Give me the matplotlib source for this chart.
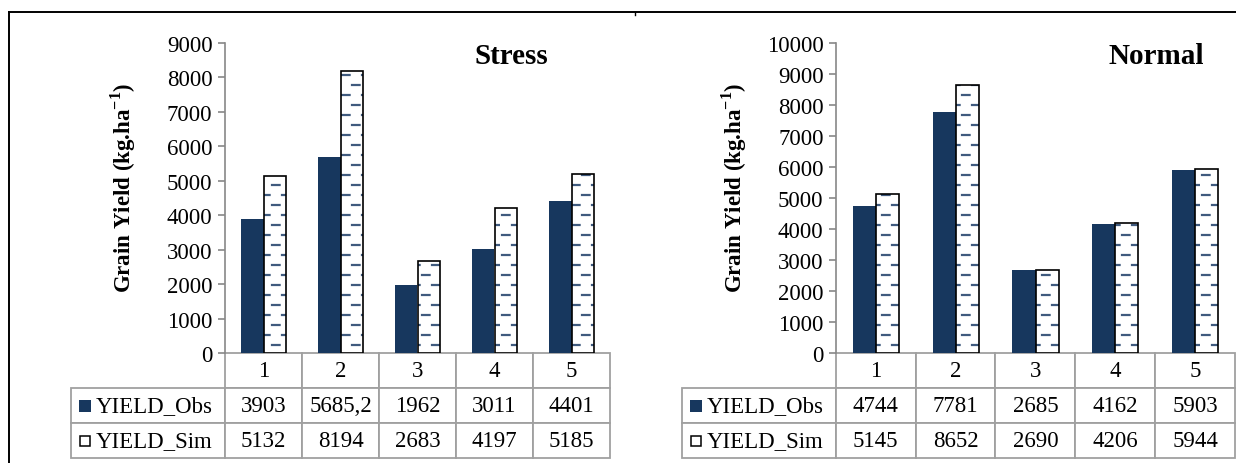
import numpy as np
import matplotlib
matplotlib.use("Agg")
import matplotlib.pyplot as plt
import matplotlib.hatch as mhatch
from matplotlib.path import Path
from matplotlib.patches import Rectangle
from matplotlib.lines import Line2D

# data
categories = ["1", "2", "3", "4", "5"]
stress_obs = [3903, 5685.2, 1962, 3011, 4401]
stress_sim = [5132, 8194, 2683, 4197, 5185]
normal_obs = [4744, 7781, 2685, 4162, 5903]
normal_sim = [5145, 8652, 2690, 4206, 5944]
stress_obs_txt = ["3903", "5685,2", "1962", "3011", "4401"]
stress_sim_txt = ["5132", "8194", "2683", "4197", "5185"]
normal_obs_txt = ["4744", "7781", "2685", "4162", "5903"]
normal_sim_txt = ["5145", "8652", "2690", "4206", "5944"]
series_names = ["YIELD_Obs", "YIELD_Sim"]

NAVY = "#17375E"
DASH = "#3F5A7E"
GRID = "#A0A0A0"


# staggered short dashes instead of full horizontal hatch lines
class DashedHorizontalHatch(mhatch.HatchPatternBase):
    def __init__(self, hatch, density):
        if '-' in hatch:
            self.rows, self.cols = 10, 5
        else:
            self.rows, self.cols = 0, 0
        self.num_vertices = self.rows * self.cols * 2

    def set_vertices_and_codes(self, vertices, codes):
        p = 1.0 / self.cols
        k = 0
        for r in range(self.rows):
            y = (r + 0.5) / self.rows
            off = 0.1 * p if r % 2 == 0 else 0.6 * p
            for c in range(self.cols):
                x0 = c * p + off
                vertices[k] = (x0, y)
                vertices[k + 1] = (x0 + 0.38 * p, y)
                codes[k] = Path.MOVETO
                codes[k + 1] = Path.LINETO
                k += 2


mhatch._hatch_types[mhatch._hatch_types.index(mhatch.HorizontalHatch)] = DashedHorizontalHatch

plt.rcParams['font.family'] = ['Liberation Serif', 'DejaVu Serif']
plt.rcParams['mathtext.fontset'] = 'custom'
plt.rcParams['mathtext.rm'] = 'Liberation Serif'
plt.rcParams['mathtext.bf'] = 'Liberation Serif:bold'
plt.rcParams['hatch.linewidth'] = 1.6

FS = 16.5
W = 1236.0
H = 464.0


def panel(ax_px, label_left, col_w, obs, sim, obs_txt, sim_txt, ymax, title, title_x, ylab_x):
    x0, x1 = ax_px
    top, bot = 44, 354
    ax = fig.add_axes([x0 / W, 1 - bot / H, (x1 - x0) / W, (bot - top) / H])
    x = np.arange(len(categories))
    w = 0.29
    ax.bar(x - w / 2, obs, w, color=NAVY, linewidth=0)
    ax.bar(x + w / 2, sim, w, color="white", edgecolor=DASH, hatch='-', linewidth=0)
    ax.bar(x + w / 2, sim, w, fill=False, edgecolor="black", linewidth=1.2)
    ax.set_xlim(-0.5, len(categories) - 0.5)
    ax.set_ylim(0, ymax)
    ax.set_yticks(np.arange(0, ymax + 1, 1000))
    ax.set_xticks([])
    for s in ["top", "right", "bottom"]:
        ax.spines[s].set_visible(False)
    ax.spines["left"].set_color("#888888")
    ax.spines["left"].set_linewidth(1.2)
    ax.tick_params(axis="y", colors="#888888", labelcolor="black", labelsize=FS,
                   length=5, width=1.2, pad=4)

    # data table under the axes
    axw = x1 - x0
    axh = bot - top
    tbl_bottom = 459
    bx = (label_left - x0) / axw
    bw = (x1 - label_left) / axw
    bh = (tbl_bottom - bot) / axh
    cell_text = [[""] + categories,
                 [series_names[0]] + obs_txt,
                 [series_names[1]] + sim_txt]
    lab_w = x0 - label_left
    tbl = ax.table(cellText=cell_text, colWidths=[lab_w] + [col_w] * len(categories),
                   cellLoc="center", bbox=[bx, -bh, bw, bh])
    tbl.auto_set_font_size(False)
    tbl.set_fontsize(FS)
    for (r, c), cell in tbl.get_celld().items():
        cell.set_edgecolor(GRID)
        cell.set_linewidth(1.3)
        if r == 0 and c == 0:
            cell.visible_edges = ""
        if c == 0 and r > 0:
            cell._loc = "left"
            cell.get_text().set_horizontalalignment("left")
            cell.PAD = 25.5 / lab_w

    # legend keys in the label column
    keys = [(NAVY, NAVY, 12, 0), ("white", "black", 10, 1.1)]
    for i, (fc, ec, size, lw) in enumerate(keys):
        yc = -bh * (i + 1.5) / 3.0
        sq_w = size / axw
        sq_h = size / axh
        ax.add_patch(Rectangle((bx + (8 + (12 - size) / 2) / axw, yc - sq_h / 2), sq_w, sq_h,
                               transform=ax.transAxes, facecolor=fc, edgecolor=ec,
                               linewidth=lw, clip_on=False))

    fig.text(title_x / W, 1 - 57 / H, title, fontsize=21, fontweight="bold",
             ha="center", va="center")
    fig.text(ylab_x / W, 1 - 188 / H, r"Grain Yield (kg.ha$^{\mathbf{-1}}$)", fontsize=16.5,
             fontweight="bold", rotation=90, ha="center", va="center")
    return ax


fig = plt.figure(figsize=(12.36, 4.64), dpi=100)

panel((225, 610), 70.7, 77, stress_obs, stress_sim, stress_obs_txt, stress_sim_txt,
      9000, "Stress", 511, 123)
panel((836, 1235), 681.7, 80, normal_obs, normal_sim, normal_obs_txt, normal_sim_txt,
      10000, "Normal", 1156, 734)

# frame lines of the surrounding box
fig.add_artist(Line2D([9 / W, 1.0], [1 - 13 / H, 1 - 13 / H], color="black", linewidth=1.4))
fig.add_artist(Line2D([9 / W, 9 / W], [0, 1 - 13 / H], color="black", linewidth=1.4))
fig.add_artist(Line2D([635 / W, 635 / W], [1 - 13 / H, 1 - 16 / H], color="black", linewidth=1.0))

fig.savefig("out.png", dpi=100)
